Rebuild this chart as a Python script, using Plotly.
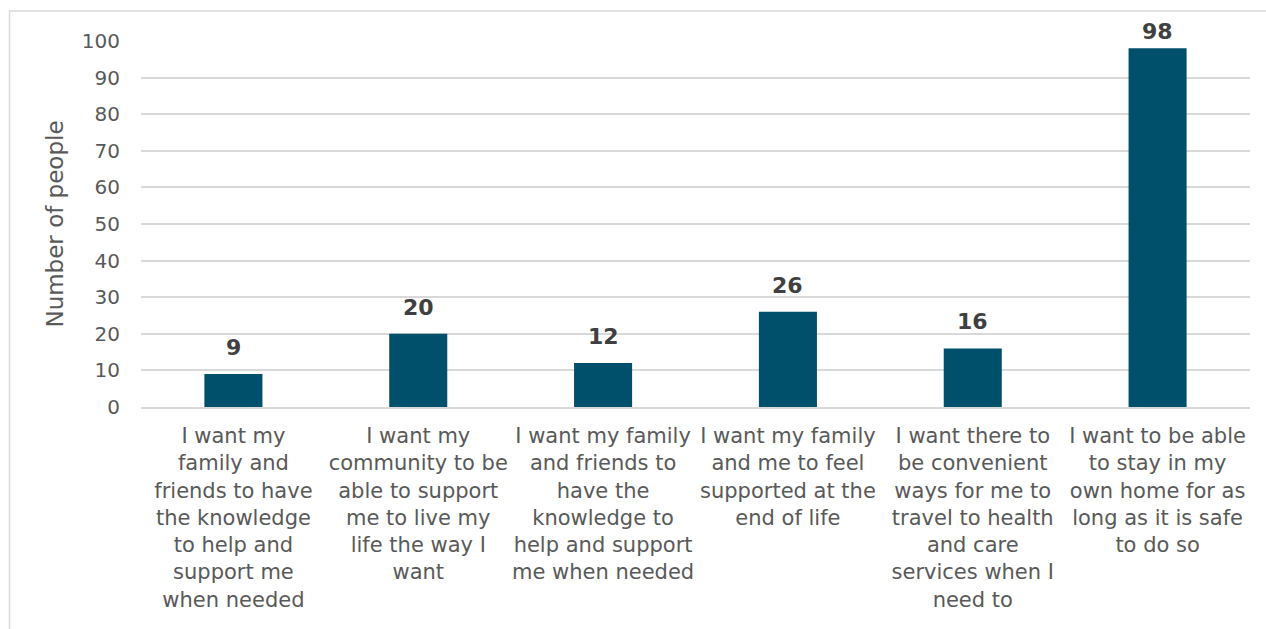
import plotly.graph_objects as go

categories = [
    "I want my<br>family and<br>friends to have<br>the knowledge<br>to help and<br>support me<br>when needed",
    "I want my<br>community to be<br>able to support<br>me to live my<br>life the way I<br>want",
    "I want my family<br>and friends to<br>have the<br>knowledge to<br>help and support<br>me when needed",
    "I want my family<br>and me to feel<br>supported at the<br>end of life",
    "I want there to<br>be convenient<br>ways for me to<br>travel to health<br>and care<br>services when I<br>need to",
    "I want to be able<br>to stay in my<br>own home for as<br>long as it is safe<br>to do so",
]
values = [9, 20, 12, 26, 16, 98]
y_ticks = [0, 10, 20, 30, 40, 50, 60, 70, 80, 90, 100]

# label offsets above bar tops (pixels) - styling only
label_shift = [12, 12, 12, 12, 12, 2]

W, H = 1266, 629
L, R, T, B = 141, 16, 41, 222
pw = W - L - R
ph = H - T - B

FONT = "DejaVu Sans"

fig = go.Figure()
fig.add_trace(go.Bar(
    x=categories, y=values,
    marker=dict(color="#00506B", line=dict(width=0)),
    width=0.314,
))

for c, v, s in zip(categories, values, label_shift):
    fig.add_annotation(
        x=c, y=v, text=str(v), showarrow=False,
        xanchor="center", yanchor="bottom", yshift=s,
        font=dict(family=FONT, size=22, color="#404040", weight="bold"),
    )

def px_x(p):
    return (p - L) / pw

def px_y(p):
    return (H - B - p) / ph

fig.update_layout(
    width=W, height=H,
    margin=dict(l=L, r=R, t=T, b=B, autoexpand=False),
    paper_bgcolor="white", plot_bgcolor="white",
    showlegend=False,
    font=dict(family=FONT, color="#595959"),
    xaxis=dict(
        tickfont=dict(family=FONT, size=21, color="#595959"),
        showgrid=False, showline=True, linecolor="#d9d9d9", linewidth=1.5,
        ticks="", tickangle=0, ticklabelstandoff=9,
    ),
    yaxis=dict(
        range=[0, 100], tickvals=y_ticks,
        tickfont=dict(family=FONT, size=20, color="#595959"),
        showgrid=True, gridcolor="#d9d9d9", gridwidth=1.5,
        zeroline=False, ticks="", ticklabelstandoff=20,
        title=dict(text="Number of people", font=dict(family=FONT, size=23, color="#595959"), standoff=11),
    ),
    shapes=[dict(
        type="rect", xref="paper", yref="paper",
        x0=px_x(9.5), x1=px_x(1300), y0=px_y(700), y1=px_y(11),
        line=dict(color="#d9d9d9", width=1.5), fillcolor="rgba(0,0,0,0)", layer="below",
    )],
)

fig.write_html("out.html")
